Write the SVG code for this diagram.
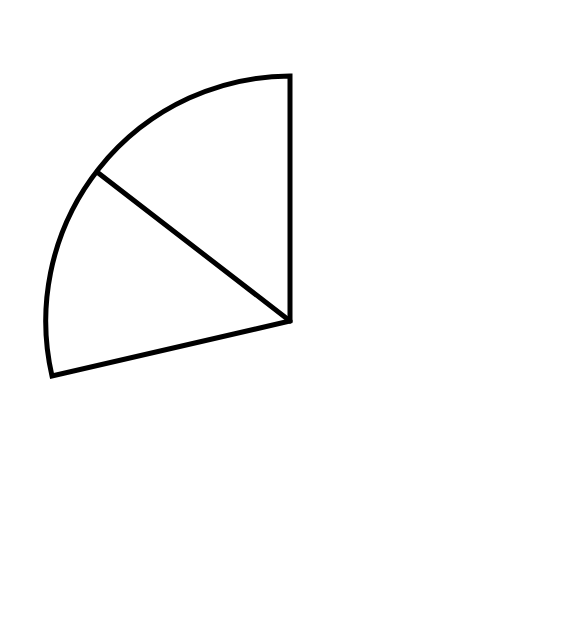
<svg xmlns="http://www.w3.org/2000/svg" width="585" height="640" viewBox="0 0 585 640">
<style>.s{fill:none;stroke:#000;stroke-width:5;stroke-linejoin:miter;stroke-linecap:round}</style>
<rect width="585" height="640" fill="#fff"/>
<g id="sector">
<path class="s" d="M290,321 L290,76 A245,245 0 0 0 52,376 Z"/>
<path class="s" d="M290,321 L97,172"/>
</g>
</svg>
